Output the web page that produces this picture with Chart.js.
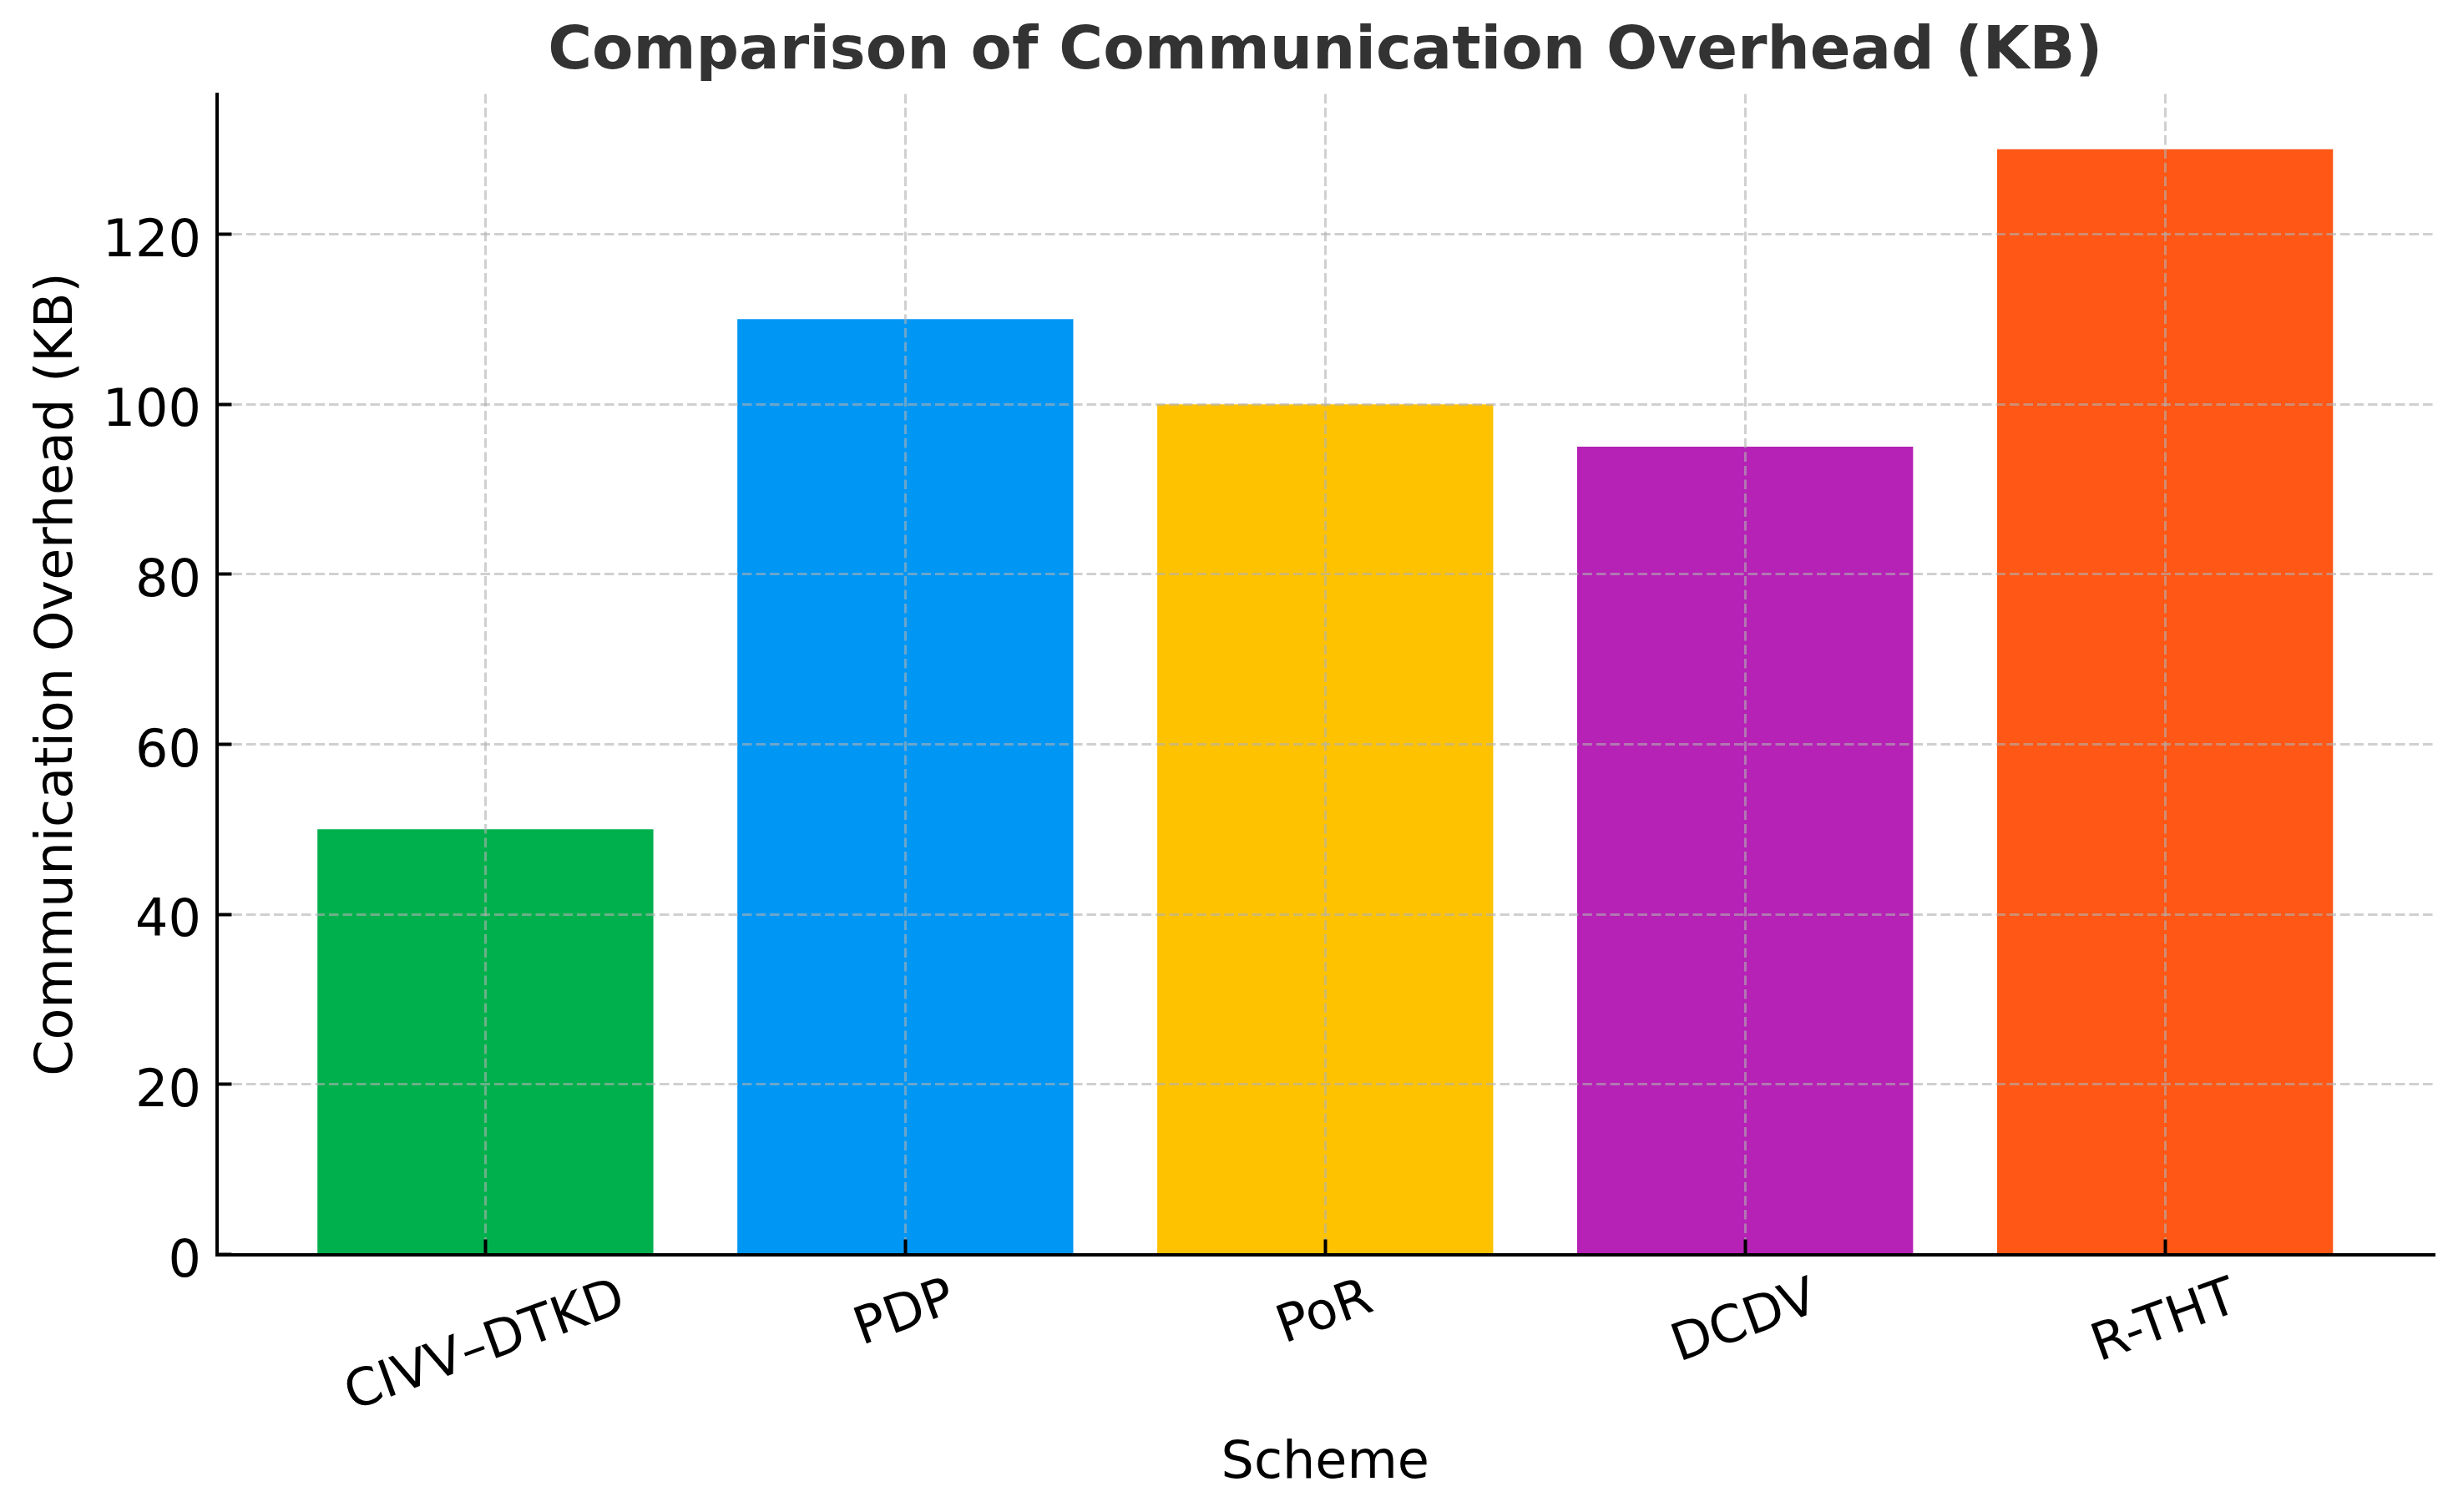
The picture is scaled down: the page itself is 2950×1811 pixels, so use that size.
<!DOCTYPE html>
<html><head><meta charset="utf-8">
<script src="https://cdn.jsdelivr.net/npm/chart.js@4.4.1/dist/chart.umd.min.js"></script>
<style>html,body{margin:0;padding:0;background:#fff;} canvas{display:block;}</style>
</head><body>
<canvas id="c" width="2950" height="1811" style="width:2950px;height:1811px"></canvas>
<script>
const categories = ['CIVV–DTKD', 'PDP', 'PoR', 'DCDV', 'R-THT'];
const overheadKB = [50, 110, 100, 95, 130];
const barColors = ['#00B04C', '#0096F4', '#FFC200', '#B522B5', '#FF5716'];
const yTicks = [0, 20, 40, 60, 80, 100, 120];
const chartTitle = 'Comparison of Communication Overhead (KB)';
const xTitle = 'Scheme';
const yTitle = 'Communication Overhead (KB)';

const FONT = "'DejaVu Sans', sans-serif";

const xLabelsPlugin = {
  id: 'xLabels',
  afterDraw(chart) {
    const s = chart.scales.x;
    const ctx = chart.ctx;
    const fs = 62, th = 20 * Math.PI / 180, asc = 0.76 * fs, desc = 0.23 * fs;
    const y0 = s.top + 22.5;
    const c = Math.cos(th), sn = Math.sin(th);
    ctx.save();
    ctx.font = fs + 'px ' + FONT;
    ctx.fillStyle = '#000';
    ctx.textAlign = 'left';
    ctx.textBaseline = 'alphabetic';
    categories.forEach((lbl, i) => {
      const px = s.getPixelForValue(i);
      const w = ctx.measureText(lbl).width;
      const xmin = -asc * sn, xmax = w * c + desc * sn, ymin = -w * sn - asc * c;
      ctx.save();
      ctx.translate(px - (xmin + xmax) / 2, y0 - ymin);
      ctx.rotate(-th);
      ctx.fillText(lbl, 0, 0);
      ctx.restore();
    });
    ctx.restore();
  }
};

const gridOpts = {
  color: 'rgba(176,176,176,0.6)', lineWidth: 3, offset: false,
  drawTicks: true, tickLength: -18, tickColor: '#000', tickWidth: 4, z: 1
};
const borderOpts = { display: true, color: '#000', width: 4, dash: [11.5, 5], z: 2 };

new Chart(document.getElementById('c').getContext('2d'), {
  type: 'bar',
  data: {
    datasets: [{
      data: categories.map((c, i) => ({ x: i, y: overheadKB[i] })),
      backgroundColor: barColors,
      borderWidth: 0,
      categoryPercentage: 0.8,
      barPercentage: 1.0
    }]
  },
  options: {
    responsive: false,
    devicePixelRatio: 1,
    animation: false,
    layout: { padding: { left: 0, right: 35, top: 0, bottom: 0 } },
    plugins: {
      legend: { display: false },
      tooltip: { enabled: false },
      title: {
        display: true, text: chartTitle, fullSize: false, color: '#333333',
        font: { family: FONT, size: 72, weight: 'bold', lineHeight: 1.2 },
        padding: { top: 20, bottom: 6.1 }
      }
    },
    scales: {
      x: {
        type: 'linear', min: -0.64, max: 4.64, offset: false,
        afterBuildTicks: s => { s.ticks = categories.map((c, i) => ({ value: i })); },
        afterFit: s => { s.height = 308.5; },
        ticks: { display: false },
        grid: gridOpts,
        border: borderOpts,
        title: { display: true, text: xTitle, color: '#000', font: { family: FONT, size: 62 }, padding: { top: 0, bottom: 19.9 } }
      },
      y: {
        min: 0, max: 136.5, offset: false,
        afterBuildTicks: s => { s.ticks = yTicks.map(v => ({ value: v })); },
        afterFit: s => { s.width = 259.5; },
        ticks: { color: '#000', font: { family: FONT, size: 62 }, padding: 36.5, labelOffset: 10, z: 3 },
        grid: gridOpts,
        border: borderOpts,
        title: { display: true, text: yTitle, color: '#000', font: { family: FONT, size: 62 }, padding: { top: 32.2, bottom: 0 } }
      }
    }
  },
  plugins: [xLabelsPlugin]
});
</script>
</body></html>
